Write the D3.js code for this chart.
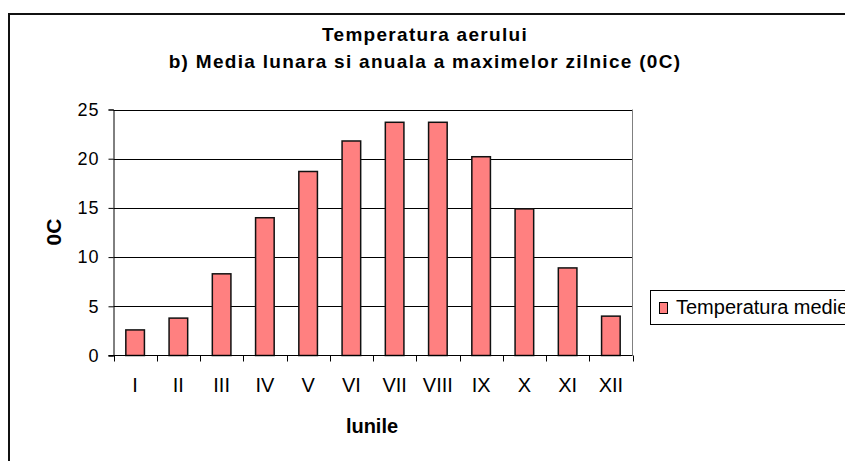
<!DOCTYPE html>
<html><head><meta charset="utf-8">
<script src="https://cdn.jsdelivr.net/npm/d3@7"></script>
<style>body{margin:0;background:#fff}svg{display:block;font-family:Arial,"Liberation Sans",sans-serif}</style>
</head><body>
<script>
const months = ["I","II","III","IV","V","VI","VII","VIII","IX","X","XI","XII"];
const values = [2.6, 3.8, 8.3, 14.0, 18.7, 21.8, 23.7, 23.7, 20.2, 14.9, 8.9, 4.0];
const yTicks = [0, 5, 10, 15, 20, 25];
const titleLines = ["Temperatura aerului", "b) Media lunara si anuala a maximelor zilnice (0C)"];
const seriesName = "Temperatura medie";
const xTitle = "lunile";
const yTitle = "0C";

(function () {
const W = 845, H = 461;
const svg = d3.select("body").append("svg").attr("width", W).attr("height", H);

// outer chart border
svg.append("rect").attr("x", 9).attr("y", 14).attr("width", 860).attr("height", 470)
  .attr("fill", "none").attr("stroke", "#111").attr("stroke-width", 2);

const pL = 113.5, pR = 632.5, pT = 109.5, pB = 355.5;
const x = d3.scaleBand().domain(months).range([pL, pR]).paddingInner(0.57).paddingOuter(0.285);
const xb = d3.scaleBand().domain(months).range([pL, pR]);
const y = d3.scaleLinear().domain([0, 25]).range([pB, pT]);

// gridlines
svg.append("g").selectAll("line").data(yTicks.filter(d => d > 0)).join("line")
  .attr("x1", pL).attr("x2", pR).attr("y1", d => Math.round(y(d)) + 0.5).attr("y2", d => Math.round(y(d)) + 0.5)
  .attr("stroke", "#000").attr("stroke-width", 1);
// right border of plot (gray)
svg.append("line").attr("x1", pR).attr("x2", pR).attr("y1", pT).attr("y2", pB)
  .attr("stroke", "#808080").attr("stroke-width", 1);

// bars
svg.append("g").selectAll("rect").data(values).join("rect")
  .attr("x", (d, i) => x(months[i]))
  .attr("y", d => y(d))
  .attr("width", x.bandwidth())
  .attr("height", d => pB - y(d))
  .attr("fill", "#FF8080").attr("stroke", "#111").attr("stroke-width", 1.5);

// y axis
const yAxis = d3.axisLeft(y).tickValues(yTicks).tickSize(5).tickPadding(9);
const gy = svg.append("g").attr("transform", `translate(${pL},0)`).call(yAxis);
gy.select(".domain").attr("stroke", "#000");
gy.selectAll(".tick line").attr("stroke", "#000");
gy.selectAll(".tick text").attr("font-size", 18).attr("letter-spacing", 1).attr("fill", "#000")
  .attr("font-family", "Arial, 'Liberation Sans', sans-serif");

// x axis: ticks at band boundaries
svg.append("line").attr("x1", pL - 5).attr("x2", pR).attr("y1", pB).attr("y2", pB).attr("stroke", "#000");
const bounds = months.map(m => xb(m)).concat([pR]);
svg.append("g").selectAll("line").data(bounds).join("line")
  .attr("x1", d => Math.round(d) + 0.5).attr("x2", d => Math.round(d) + 0.5)
  .attr("y1", pB).attr("y2", pB + 6).attr("stroke", "#000");
svg.append("g").selectAll("text").data(months).join("text")
  .attr("x", d => xb(d) + xb.bandwidth() / 2).attr("y", 392)
  .attr("text-anchor", "middle").attr("font-size", 20).attr("fill", "#000").text(d => d);

// titles
svg.append("g").selectAll("text").data(titleLines).join("text")
  .attr("x", 425).attr("y", (d, i) => 41 + i * 27)
  .attr("text-anchor", "middle").attr("font-size", 19).attr("letter-spacing", 1.3)
  .attr("font-weight", "bold").text(d => d);

svg.append("text").attr("x", 372).attr("y", 433).attr("text-anchor", "middle")
  .attr("font-size", 20).attr("font-weight", "bold").text(xTitle);
svg.append("text").attr("transform", "translate(61,232) rotate(-90)").attr("text-anchor", "middle")
  .attr("font-size", 21).attr("font-weight", "bold").text(yTitle);

// legend
const lg = svg.append("g");
lg.append("rect").attr("x", 650.5).attr("y", 290.5).attr("width", 220).attr("height", 34)
  .attr("fill", "#fff").attr("stroke", "#000").attr("stroke-width", 1);
lg.append("rect").attr("x", 659.5).attr("y", 302.5).attr("width", 8).attr("height", 11)
  .attr("fill", "#FF8080").attr("stroke", "#000").attr("stroke-width", 1);
lg.append("text").attr("x", 676).attr("y", 314).attr("font-size", 20).attr("fill", "#000").text(seriesName);
})();
</script>
</body></html>
